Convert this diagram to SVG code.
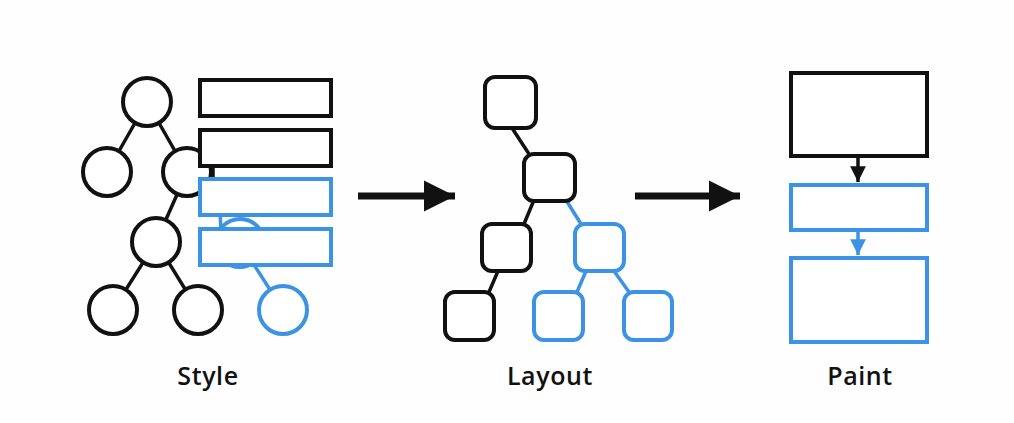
<svg xmlns="http://www.w3.org/2000/svg" width="1014" height="423" viewBox="0 0 1014 423">
  <style>
    .k{fill:#fff;stroke:#111;stroke-width:4}
    .b{fill:#fff;stroke:#3d93e3;stroke-width:4}
    .kr{fill:#fff;stroke:#111;stroke-width:4}
    .br{fill:#fff;stroke:#3d93e3;stroke-width:4}
    .kl{stroke:#111;stroke-width:3.5;fill:none}
    .bl{stroke:#3d93e3;stroke-width:3.5;fill:none}
    .lbl{font-family:"Open Sans","Liberation Sans",sans-serif;font-weight:600;font-size:25px;letter-spacing:0.6px;fill:#111;text-anchor:middle}
  </style>
  <defs>
    <marker id="ak" viewBox="0 0 10 10" refX="10" refY="5" markerWidth="4.5" markerHeight="4.5" orient="auto" markerUnits="strokeWidth">
      <path d="M0,0 L10,5 L0,10 Z" fill="#111"/>
    </marker>
    <marker id="ab" viewBox="0 0 10 10" refX="10" refY="5" markerWidth="4.5" markerHeight="4.5" orient="auto" markerUnits="strokeWidth">
      <path d="M0,0 L10,5 L0,10 Z" fill="#3d93e3"/>
    </marker>
  </defs>
  <rect width="1014" height="423" fill="#fefefe"/>

  <g id="connectors">
    <line class="kl" x1="147" y1="102" x2="107" y2="172"/>
    <line class="kl" x1="147" y1="102" x2="187" y2="172"/>
    <line class="kl" x1="187" y1="172" x2="156" y2="242"/>
    <line class="kl" x1="156" y1="242" x2="113" y2="310"/>
    <line class="kl" x1="156" y1="242" x2="198" y2="310"/>
    <line class="kl" x1="213" y1="165" x2="213" y2="179"/>
    <line class="bl" x1="220" y1="213" x2="221" y2="229"/>
    <line class="bl" x1="240" y1="243" x2="283" y2="310"/>

    <line class="kl" x1="512" y1="128" x2="529" y2="154"/>
    <line class="kl" x1="534" y1="200" x2="524" y2="224"/>
    <line class="bl" x1="566" y1="200" x2="581" y2="224"/>
    <line class="kl" x1="498" y1="271" x2="489" y2="292"/>
    <line class="bl" x1="586" y1="271" x2="577" y2="292"/>
    <line class="bl" x1="614" y1="271" x2="629" y2="292"/>

    <line x1="358" y1="196" x2="455" y2="196" stroke="#111" stroke-width="7" marker-end="url(#ak)"/>
    <line x1="635" y1="196" x2="740" y2="196" stroke="#111" stroke-width="7" marker-end="url(#ak)"/>

    <line x1="858" y1="158" x2="858" y2="182" stroke="#111" stroke-width="3.5" marker-end="url(#ak)"/>
    <line x1="858" y1="232" x2="858" y2="255" stroke="#3d93e3" stroke-width="3.5" marker-end="url(#ab)"/>
  </g>

  <g id="style-n1"><circle class="k" cx="147" cy="102" r="24"/></g>
  <g id="style-n2"><circle class="k" cx="107" cy="172" r="24"/></g>
  <g id="style-n3"><circle class="k" cx="187" cy="172" r="24"/></g>
  <g id="style-n4"><circle class="k" cx="156" cy="242" r="24"/></g>
  <g id="style-n5"><circle class="k" cx="113" cy="310" r="24"/></g>
  <g id="style-n6"><circle class="k" cx="198" cy="310" r="24"/></g>
  <g id="style-n7"><circle class="b" cx="240" cy="243" r="24"/></g>
  <g id="style-n8"><circle class="b" cx="283" cy="310" r="24"/></g>

  <g id="style-r1"><rect class="kr" x="200" y="80" width="131" height="36"/></g>
  <g id="style-r2"><rect class="kr" x="200" y="130" width="131" height="36"/></g>
  <g id="style-r3"><rect class="br" x="200" y="179" width="131" height="36"/></g>
  <g id="style-r4"><rect class="br" x="200" y="229" width="131" height="36"/></g>

  <g id="layout-n1"><rect class="k" x="485" y="77" width="51" height="51" rx="10"/></g>
  <g id="layout-n2"><rect class="k" x="524" y="154" width="51" height="47" rx="10"/></g>
  <g id="layout-n3"><rect class="k" x="482" y="224" width="49" height="47" rx="10"/></g>
  <g id="layout-n4"><rect class="b" x="575" y="224" width="49" height="47" rx="10"/></g>
  <g id="layout-n5"><rect class="k" x="445" y="292" width="49" height="48" rx="10"/></g>
  <g id="layout-n6"><rect class="b" x="534" y="292" width="49" height="48" rx="10"/></g>
  <g id="layout-n7"><rect class="b" x="624" y="292" width="48" height="48" rx="10"/></g>

  <g id="paint-r1"><rect class="kr" x="791" y="73" width="136" height="83"/></g>
  <g id="paint-r2"><rect class="br" x="791" y="185" width="136" height="45"/></g>
  <g id="paint-r3"><rect class="br" x="791" y="258" width="136" height="84"/></g>

  <g id="labels">
    <text class="lbl" x="208" y="385">Style</text>
    <text class="lbl" x="550" y="385">Layout</text>
    <text class="lbl" x="860" y="385">Paint</text>
  </g>
</svg>
